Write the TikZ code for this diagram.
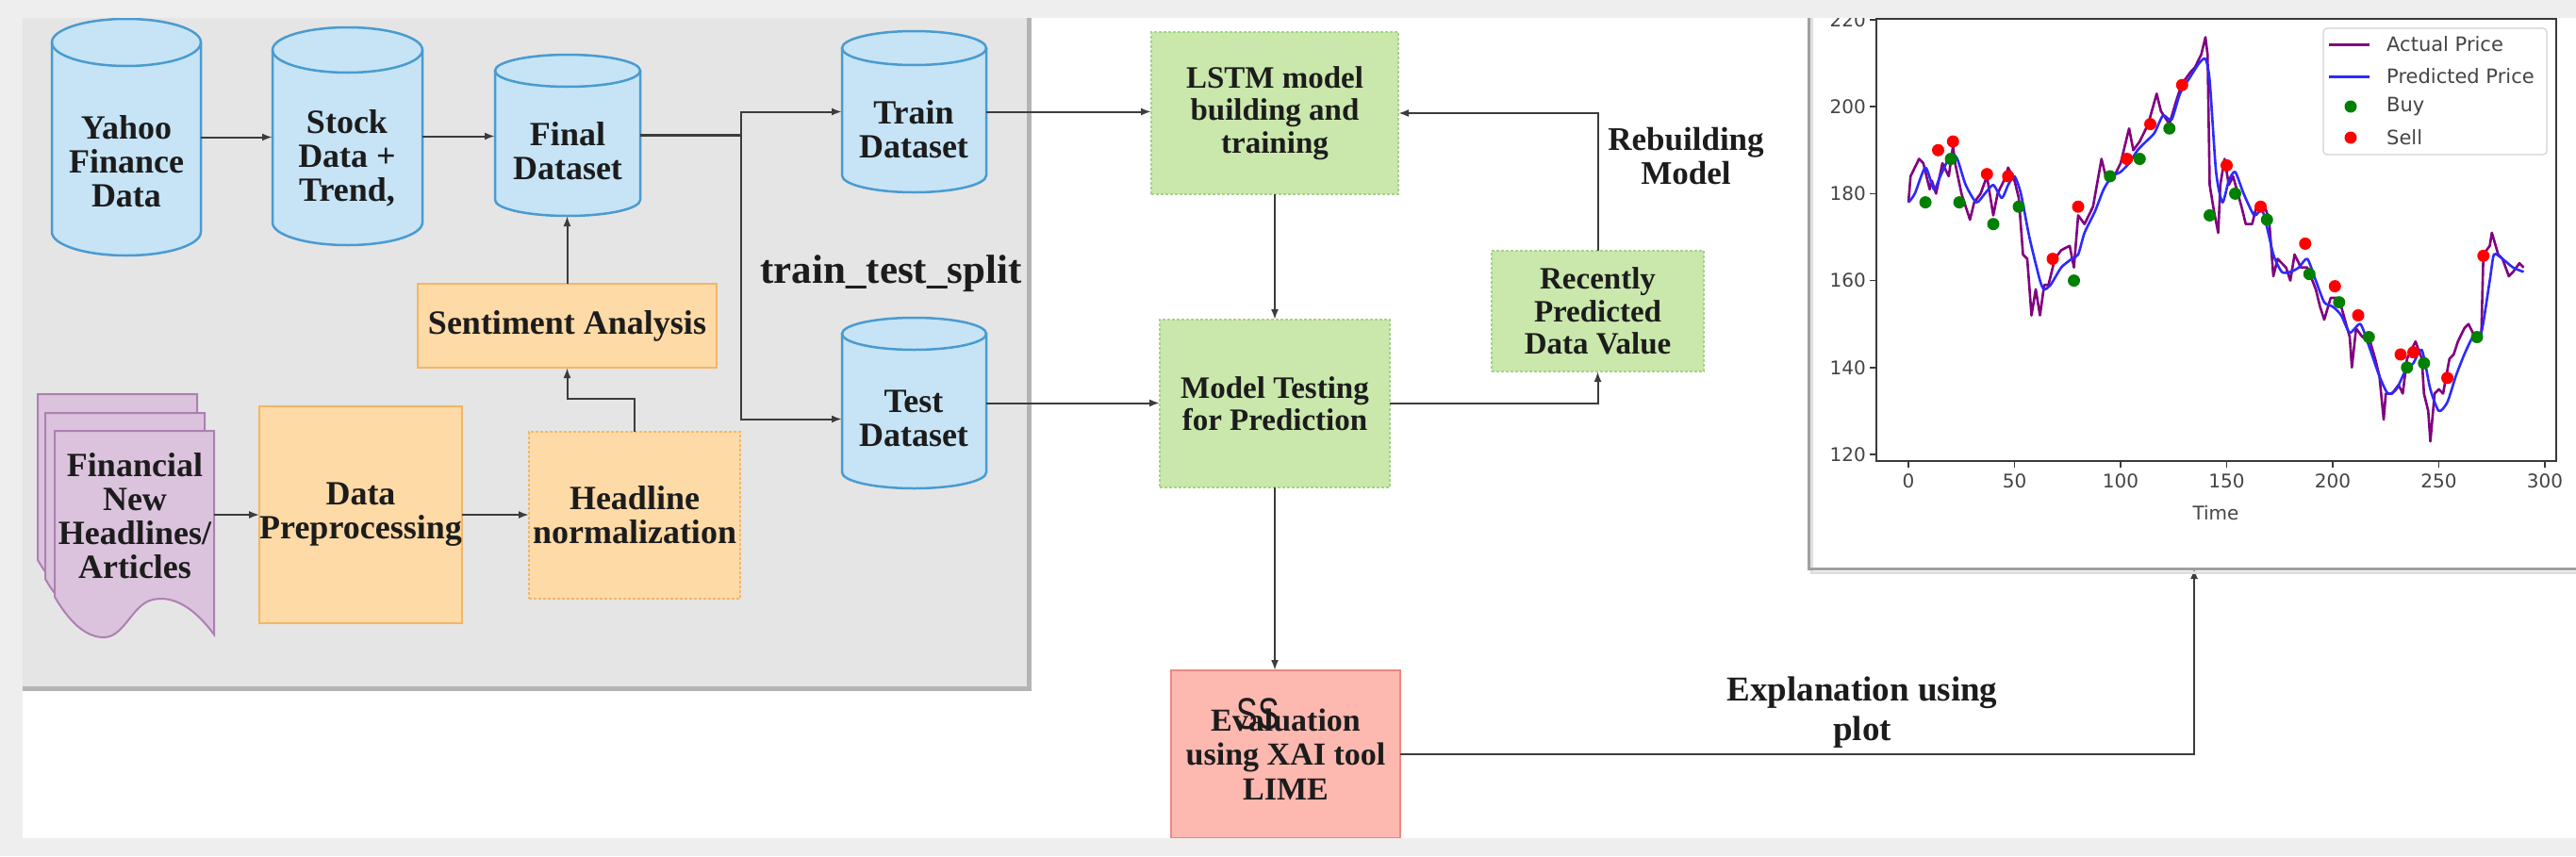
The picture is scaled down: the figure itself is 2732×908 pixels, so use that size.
\documentclass[tikz,border=0pt]{standalone}
\usepackage{fontspec}
\setmainfont{Liberation Serif}
\newfontfamily\mplsans{DejaVu Sans}
\newfontfamily\ovsans{Liberation Sans}
\usetikzlibrary{arrows.meta,calc}

\definecolor{bgout}{HTML}{EEEEEE}
\definecolor{panel}{HTML}{E5E5E5}
\definecolor{panelsh}{HTML}{B4B4B4}
\definecolor{cylfill}{HTML}{C6E4F6}
\definecolor{cyldraw}{HTML}{4A9BD1}
\definecolor{orfill}{HTML}{FEDAA6}
\definecolor{ordraw}{HTML}{F5B565}
\definecolor{grfill}{HTML}{CAE7AC}
\definecolor{grdraw}{HTML}{A3D483}
\definecolor{pkfill}{HTML}{FDB8B0}
\definecolor{pkdraw}{HTML}{EE8880}
\definecolor{pufill}{HTML}{DBC3DD}
\definecolor{pudraw}{HTML}{AD80B2}
\definecolor{txt}{HTML}{1C1C1C}
\definecolor{arrc}{HTML}{3C3C3C}
\definecolor{mplpurple}{HTML}{800080}
\definecolor{mplblue}{HTML}{2B2BFF}
\definecolor{mplgreen}{HTML}{008000}
\definecolor{mplred}{HTML}{FF0000}
\definecolor{axc}{HTML}{3A3A3A}
\definecolor{ticktxt}{HTML}{444444}

\newcommand\dbcyl[6]{%
  \pgfmathsetmacro\cyx{(#2+#3)/2}%
  \pgfmathsetmacro\cyr{(#3-#2)/2}%
  \pgfmathsetmacro\cyw{#3-#2}%
  \pgfmathsetmacro\cyh{#5-#4}%
  \pgfmathsetmacro\cyy{(#4+#5)/2}%
  \fill[cylfill] (#2,#4+#6) -- (#2,#5-#6) arc[start angle=180,end angle=360,x radius=\cyr pt,y radius=#6 pt] -- (#3,#4+#6) arc[start angle=0,end angle=180,x radius=\cyr pt,y radius=#6 pt] -- cycle;
  \draw[cylline] (#2,#4+#6) -- (#2,#5-#6) arc[start angle=180,end angle=360,x radius=\cyr pt,y radius=#6 pt] -- (#3,#4+#6);
  \draw[cylline] (\cyx,#4+#6) ellipse[x radius=\cyr pt,y radius=#6 pt];
  \node[anchorbox, minimum width=\cyw pt, minimum height=\cyh pt] (#1) at (\cyx,\cyy) {};
}

\newcommand\docpage[2]{%
  \filldraw[fill=pufill, draw=pudraw, line width=2pt, shift={(#1,#2)}]
    (58,457) -- (227,457) -- (227,673)
    .. controls (207,646) and (185,631) .. (162,636)
    .. controls (140,641) and (132,676) .. (110,676)
    .. controls (86,676) and (68,650) .. (58,633) -- cycle;
}

\tikzset{
  cylline/.style={draw=cyldraw, line width=2.5pt},
  anchorbox/.style={inner sep=0pt, outer sep=0pt, draw=none},
  lbl/.style={font=\bfseries\fontsize{36}{36}\selectfont, text=txt, align=center, inner sep=0pt},
  obox/.style={draw=ordraw, fill=orfill, line width=2pt, inner sep=0pt, outer sep=0pt, align=center, text=txt, font=\bfseries\fontsize{36}{36}\selectfont},
  gbox/.style={draw=grdraw, fill=grfill, line width=2pt, densely dashed, inner sep=0pt, outer sep=0pt, align=center, text=txt, font=\bfseries\fontsize{33}{34.5}\selectfont},
  pbox/.style={draw=pkdraw, fill=pkfill, line width=2pt, inner sep=0pt, outer sep=0pt, align=center, text=txt, font=\bfseries\fontsize{34}{36.5}\selectfont},
  arr/.style={draw=arrc, line width=2pt, -{Latex[length=11pt,width=8pt]}},
  tick/.style={draw=axc, line width=1.6pt},
  ticklbl/.style={font=\mplsans\fontsize{20}{20}\selectfont, text=ticktxt, inner sep=0pt},
  leglbl/.style={font=\mplsans\fontsize{21}{21}\selectfont, text=ticktxt, inner sep=0pt, anchor=west},
}

\begin{document}
\begin{tikzpicture}[x=1pt,y=-1pt]
\useasboundingbox (0,0) rectangle (2732,908);
% backgrounds
\fill[bgout] (0,0) rectangle (2732,908);
\fill[white] (24,19) rectangle (2732,889);
\fill[panelsh] (24,19) rectangle (1094,733);
\fill[panel] (24,19) rectangle (1089,728);

% cylinders
\dbcyl{yahoo}{55}{213}{20}{271}{25}
\dbcyl{stock}{289}{448}{29}{260}{24}
\dbcyl{final}{525}{679}{58}{229}{17}
\dbcyl{train}{893}{1046}{33}{204}{18}
\dbcyl{test}{893}{1046}{337}{518}{17}
\node[lbl] (yahootxt) at (134,171) {Yahoo\\Finance\\Data};
\node[lbl] (stocktxt) at (368,168) {Stock\\Data +\\Trend,};
\node[lbl] (finaltxt) at (602,160) {Final\\Dataset};
\node[lbl] (traintxt) at (969,137) {Train\\Dataset};
\node[lbl] (testtxt) at (969,444) {Test\\Dataset};

% documents
\docpage{-18}{-39}
\docpage{-10}{-19}
\docpage{0}{0}
\node[anchorbox, minimum width=169pt, minimum height=216pt] (docs) at (142.5,565) {};
\node[lbl] (docstxt) at (143,547) {Financial\\New\\Headlines/\\Articles};

% orange boxes
\node[obox, minimum width=211pt, minimum height=230pt] (datapre) at (382.5,546) {Data\\Preprocessing};
\node[obox, densely dashed, minimum width=224pt, minimum height=177pt] (headline) at (673,546.5) {Headline\\normalization};
\node[obox, minimum width=317pt, minimum height=89pt] (senti) at (601.5,345.5) {Sentiment Analysis};

\node[lbl, font=\bfseries\fontsize{43}{43}\selectfont] (tts) at (945,290) {train\_test\_split};

% green / pink boxes
\node[gbox, minimum width=262pt, minimum height=172pt] (lstm) at (1352,120) {LSTM model\\building and\\training};
\node[gbox, minimum width=244pt, minimum height=178pt] (model) at (1352,428) {Model Testing\\for Prediction};
\node[gbox, minimum width=225pt, minimum height=128pt] (recent) at (1694.5,330) {Recently\\Predicted\\Data Value};
\node[pbox, minimum width=243pt, minimum height=178pt] (eval) at (1363.5,800) {Evaluation\\using XAI tool\\LIME};
\node[font=\ovsans\fontsize{47}{47}\selectfont, text=txt, inner sep=0pt] (ss) at (1334,757) {\scalebox{0.72}[1]{SS}};

\node[lbl, font=\bfseries\fontsize{35}{36}\selectfont] (rebuild) at (1788,166) {Rebuilding\\Model};
\node[lbl, font=\bfseries\fontsize{37}{42}\selectfont] (explain) at (1975,756) {Explanation using\\plot};

% connectors
\coordinate (split) at (786,143.5);
\coordinate (chartin) at (2327,603);
\draw[arr] (yahoo.east) -- (yahoo.east -| stock.west);
\draw[arr] (stock.east) -- (stock.east -| final.west);
\draw[draw=arrc, line width=3pt] (final.east) -- (split);
\draw[arr] (split) |- (train.west);
\draw[arr] (split) |- ([yshift=-17pt]test.west);
\draw[arr] (train.east) -- (train.east -| lstm.west);
\draw[arr] (test.east) -- (test.east -| model.west);
\draw[arr] (lstm.south) -- (model.north);
\draw[arr] (model.east) -| (recent.south);
\draw[arr] (recent.north) |- (lstm.east);
\draw[arr] (model.south) -- (model.south |- eval.north);
\draw[arr] (eval.east) -| (chartin);
\draw[arr] (docs.east |- datapre.west) -- (datapre.west);
\draw[arr] (datapre.east) -- (datapre.east -| headline.west);
\draw[arr] (headline.north) -- ++(0,-35) -| (senti.south);
\draw[arr] (senti.north) -- (senti.north |- final.south);

% chart frame
\draw[line width=3pt, draw=gray!25] (1921,19) -- (1921,607) -- (2732,607);
\draw[line width=3pt, draw=gray!75] (1918,19) -- (1918,603) -- (2732,603);

% axes
\draw[axc, line width=1.8pt] (1990,20) rectangle (2711,489);
\foreach \v in {120,140,...,220} {
  \draw[tick] (1983,{482-(\v-120)*4.61}) -- (1990,{482-(\v-120)*4.61});
  \node[ticklbl, anchor=east] (yt\v) at (1979,{482-(\v-120)*4.61}) {\v};
}
\foreach \t in {0,50,...,300} {
  \draw[tick] ({2024+2.25*\t},489) -- ({2024+2.25*\t},496);
  \node[ticklbl, anchor=north] (xt\t) at ({2024+2.25*\t},502) {\t};
}
\node[ticklbl] (timelbl) at (2350,544) {Time};

\begin{scope}[shift={(2024pt,-1035.2pt)}, x=2.25pt, y=4.61pt]
\draw[mplpurple, line width=2.6pt, line join=round] plot coordinates {
(0,178) (1,184) (5,188) (7,187) (10,181) (11,183) (13,180) (16,187) (19,184) (21,191) (22,187) (25,180) (27,177) (29,174) (31,178) (34,180) (37,184) (40,175) (42,180) (45,183) (47,186) (50,183) (52,179) (54,166) (56,165) (58,152) (60,158) (62,152) (64,159) (66,159) (69,165) (72,167) (76,168) (78,163) (80,175) (83,173) (87,177) (91,188) (93,184) (97,184) (100,187) (104,195) (106,190) (109,192) (113,196) (117,203) (119,199) (123,196) (126,201) (128,204) (130,206) (133,208) (135,209) (138,212) (140,216) (141,212) (142,182) (144,176) (146,171) (147,182) (149,188) (151,182) (153,184) (157,177) (159,173) (162,173) (164,177) (168,177) (170,174) (172,161) (174,165) (178,163) (180,160) (182,166) (185,163) (188,163) (192,158) (194,154) (196,151) (199,156) (202,156) (204,154) (208,147) (209,140) (211,149) (214,147) (217,147) (220,142) (222,138) (224,128) (225,134) (228,134) (231,136) (233,134) (235,142) (239,146) (242,142) (243,134) (245,130) (246,123) (248,134) (250,135) (252,134) (255,142) (257,143) (259,146) (262,149) (264,150) (267,147) (270,147) (271,166) (274,168) (275,171) (278,166) (280,165) (283,161) (285,162) (288,164) (290,163)};
\draw[mplblue, line width=2.6pt, line join=round] plot[smooth, tension=0.4] coordinates {
(0,178) (3,180) (8,186) (12,181) (15,184) (20,189) (23,188) (27,182) (32,178) (36,180) (40,182) (44,179) (47,182) (50,184) (53,180) (57,170) (62,160) (64,158) (67,159) (72,163) (77,165) (80,166) (83,171) (88,176) (92,181) (96,184) (100,185) (104,187) (108,190) (112,192) (116,194) (120,198) (124,197) (128,203) (133,207) (137,210) (140,211) (142,206) (145,185) (148,178) (151,183) (154,185) (158,180) (163,175) (167,176) (172,166) (176,162) (180,162) (184,163) (188,165) (192,160) (196,155) (200,154) (204,152) (208,148) (213,150) (217,145) (222,138) (226,134) (230,135) (234,139) (238,141) (242,144) (246,135) (250,130) (254,132) (258,138) (262,143) (266,147) (270,148) (274,160) (276,166) (280,165) (285,163) (290,162)};
\foreach \t/\v in {8/178,20/188,24/178,40/173,52/177,78/160,95/184,109/188,123/195,142/175,154/180,169/174,189/161.5,203/155,217/147,235/140,243/141,268/147}
  \fill[mplgreen] (\t,\v) circle[radius=6.5pt];
\foreach \t/\v in {14/190,21/192,37/184.5,47/184,68/165,80/177,103/188,114/196,129/205,150/186.5,166/177,187/168.5,201/158.7,212/152,232/143,238/143.5,254/137.6,271/165.7}
  \fill[mplred] (\t,\v) circle[radius=6.5pt];
\end{scope}

% legend
\draw[draw=gray!35, fill=white, fill opacity=0.85, rounded corners=4pt, line width=1.2pt] (2464,30) rectangle (2701,164);
\draw[mplpurple, line width=3pt] (2470,47) -- (2513,47);
\draw[mplblue, line width=3pt] (2470,81) -- (2513,81);
\fill[mplgreen] (2493,113) circle[radius=6.5pt];
\fill[mplred] (2493,146) circle[radius=6.5pt];
\node[leglbl] (lg1) at (2531,47) {Actual Price};
\node[leglbl] (lg2) at (2531,81) {Predicted Price};
\node[leglbl] (lg3) at (2531,113) {Buy};
\node[leglbl] (lg4) at (2531,146) {Sell};

% clipping bands
\fill[bgout] (0,0) rectangle (2732,19);
\fill[bgout] (0,889) rectangle (2732,908);
\end{tikzpicture}
\end{document}
